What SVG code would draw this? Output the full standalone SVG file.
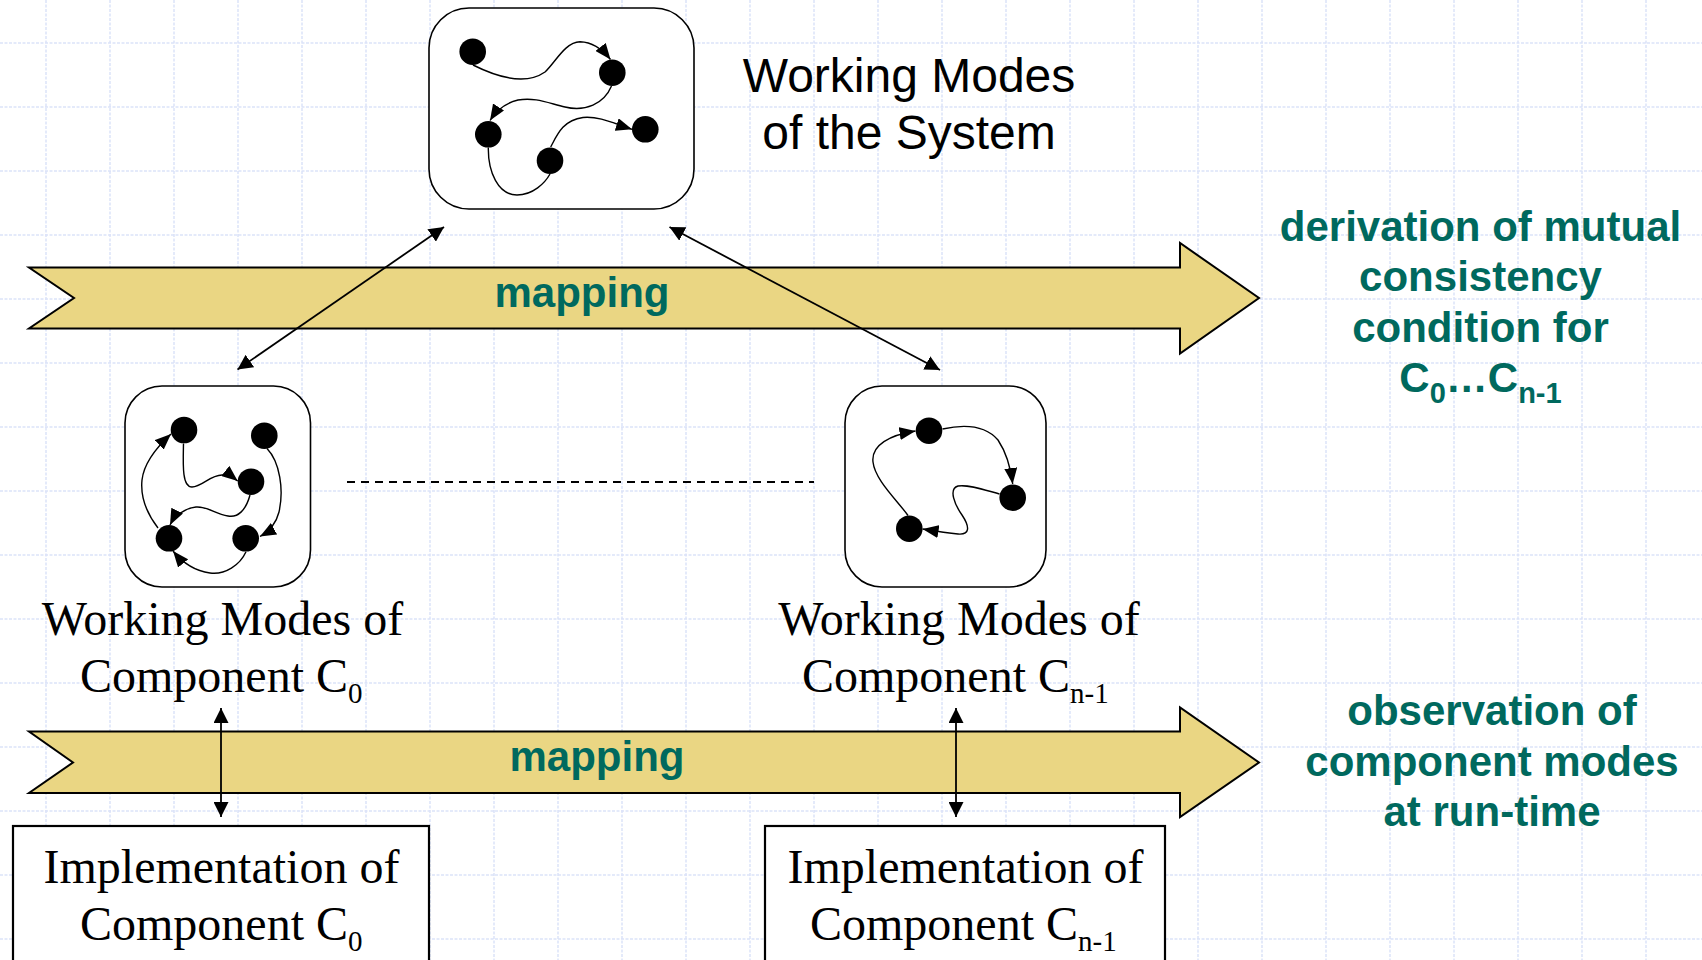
<svg xmlns="http://www.w3.org/2000/svg" width="1702" height="960" viewBox="0 0 1702 960">
  <style>
    .grid { fill: none; stroke: #dce3f9; stroke-width: 1.5; stroke-dasharray: 3 1.5; }
    .box { fill: #ffffff; stroke: #000000; stroke-width: 1.6; }
    .implbox { fill: #ffffff; stroke: #000000; stroke-width: 2.2; }
    .dot { fill: #000000; }
    .edge { fill: none; stroke: #000000; stroke-width: 1.4; marker-end: url(#mini); }
    .plain { fill: none; stroke: #000000; stroke-width: 1.4; }
    .link { fill: none; stroke: #000000; stroke-width: 1.8; marker-start: url(#big); marker-end: url(#big); }
    .banner { fill: #ead683; stroke: #000000; stroke-width: 2; stroke-linejoin: miter; }
    .teal { font-family: "Liberation Sans", Arial, sans-serif; font-weight: bold; font-size: 42px; fill: #00695e; text-anchor: middle; }
    .sans { font-family: "Liberation Sans", Arial, sans-serif; font-size: 48px; fill: #000000; text-anchor: middle; }
    .serif { font-family: "Liberation Serif", "Times New Roman", serif; font-size: 48px; fill: #000000; }
    .sub { font-size: 29px; }
    .tsub { font-size: 29px; }
  </style>
  <defs>
    <marker id="mini" markerUnits="userSpaceOnUse" markerWidth="16" markerHeight="13" viewBox="0 0 16 13" refX="16" refY="6.5" orient="auto">
      <path d="M0,0 L16,6.5 L0,13 z" fill="#000000"/>
    </marker>
    <marker id="big" markerUnits="userSpaceOnUse" markerWidth="15" markerHeight="15" viewBox="0 0 15 15" refX="15" refY="7.5" orient="auto-start-reverse">
      <path d="M0,0 L15,7.5 L0,15 z" fill="#000000"/>
    </marker>
  </defs>

  <rect width="1702" height="960" fill="#ffffff"/>

  <!-- background grid -->
  <path class="grid" d="M46,0V960 M110,0V960 M174,0V960 M238,0V960 M302,0V960 M366,0V960 M430,0V960 M494,0V960 M558,0V960 M622,0V960 M686,0V960 M750,0V960 M814,0V960 M878,0V960 M942,0V960 M1006,0V960 M1070,0V960 M1134,0V960 M1198,0V960 M1262,0V960 M1326,0V960 M1390,0V960 M1454,0V960 M1518,0V960 M1582,0V960 M1646,0V960 M0,43H1702 M0,107H1702 M0,171H1702 M0,235H1702 M0,299H1702 M0,363H1702 M0,427H1702 M0,491H1702 M0,555H1702 M0,619H1702 M0,683H1702 M0,747H1702 M0,811H1702 M0,875H1702 M0,939H1702"/>

  <!-- mapping bands -->
  <g id="mapping-upper">
    <polygon class="banner" points="29,267.5 1180,267.5 1180,243 1259,298 1180,353.5 1180,328.5 29,328.5 74,298"/>
    <text class="teal" x="582" y="307">mapping</text>
  </g>
  <g id="mapping-lower">
    <polygon class="banner" points="29,731.5 1180,731.5 1180,707.5 1259,762.5 1180,817 1180,793 29,793 73,762.5"/>
    <text class="teal" x="597" y="771">mapping</text>
  </g>

  <!-- working modes of the whole system -->
  <g id="system-modes">
    <rect class="box" x="429" y="8" width="265" height="201" rx="40" ry="40"/>
    <path class="edge" d="M473,65 C495,76 525,86 545,72 C555,63 565,42 580,41.7 C592,42 603,50 610.5,59.5"/>
    <path class="edge" d="M611.5,86 C604,104 585,112 565,107 C548,103 535,97 518,100 C505,103 496,111 490,120.5"/>
    <path class="plain" d="M488.3,147.6 C488,172 498,195 517,195 C533,195 545,183 550,174"/>
    <path class="edge" d="M550.7,147 C557,135 563,120 583,117.5 C600,116 615,124 632,129.3"/>
    <circle class="dot" cx="472.7" cy="51.7" r="13.3"/>
    <circle class="dot" cx="612.3" cy="72.7" r="13.3"/>
    <circle class="dot" cx="488.3" cy="134.3" r="13.3"/>
    <circle class="dot" cx="550" cy="160.7" r="13.3"/>
    <circle class="dot" cx="645.3" cy="129.3" r="13.3"/>
  </g>
  <g id="system-label">
    <text class="sans" x="909" y="92">Working Modes</text>
    <text class="sans" x="909" y="149">of the System</text>
  </g>

  <!-- working modes of component C0 -->
  <g id="component-c0-modes">
    <rect class="box" x="125" y="386" width="185.5" height="201" rx="37" ry="37"/>
    <path class="edge" d="M183.5,443.5 C183,465 182,487 192,487 C202,487 210,475 222,475 C229,475 234,478 237.7,481"/>
    <path class="edge" d="M250,495 C246,510 238,518 228,516 C215,514 207,506 196,507 C186,508 175,515 170,525"/>
    <path class="edge" d="M267,448.5 C280,462 284,490 279,512 C276,524 270,531 260,536.5"/>
    <path class="edge" d="M246,551.7 C240,565 225,575 210,573 C195,571 182,562 173,551"/>
    <path class="edge" d="M158,528 C148,515 140,500 142,480 C144,462 158,446 171,434"/>
    <circle class="dot" cx="184" cy="430" r="13.3"/>
    <circle class="dot" cx="264.3" cy="435.7" r="13.3"/>
    <circle class="dot" cx="251" cy="481.7" r="13.3"/>
    <circle class="dot" cx="169" cy="538.3" r="13.3"/>
    <circle class="dot" cx="245.7" cy="538.3" r="13.3"/>
  </g>
  <g id="component-c0-label">
    <text class="serif" x="222.5" y="635" text-anchor="middle">Working Modes of</text>
    <text class="serif" x="80" y="691.5">Component C<tspan class="sub" dy="11">0</tspan></text>
  </g>

  <!-- working modes of component Cn-1 -->
  <g id="component-cn1-modes">
    <rect class="box" x="845" y="386" width="201" height="201" rx="37" ry="37"/>
    <path class="edge" d="M942.5,429 C965,424 985,425 998,440 C1006,452 1011,470 1012.7,484"/>
    <path class="edge" d="M999.5,494 C985,490 968,484 958,486 C948,489 955,505 962,515 C970,527 970,535 958,534 C948,533 935,531 922.6,529"/>
    <path class="edge" d="M908,515.5 C897,500 875,480 873,462 C871,445 890,435 915.5,431"/>
    <circle class="dot" cx="929" cy="430.7" r="13.3"/>
    <circle class="dot" cx="1012.7" cy="497.7" r="13.3"/>
    <circle class="dot" cx="909.3" cy="528.7" r="13.3"/>
  </g>
  <g id="component-cn1-label">
    <text class="serif" x="959" y="635" text-anchor="middle">Working Modes of</text>
    <text class="serif" x="802" y="691.5">Component C<tspan class="sub" dy="11">n-1</tspan></text>
  </g>

  <!-- implementations -->
  <g id="impl-c0">
    <rect class="implbox" x="13" y="826" width="416" height="150"/>
    <text class="serif" x="43.5" y="883">Implementation of</text>
    <text class="serif" x="80" y="940">Component C<tspan class="sub" dy="11">0</tspan></text>
  </g>
  <g id="impl-cn1">
    <rect class="implbox" x="765" y="826" width="400" height="150"/>
    <text class="serif" x="787.5" y="883">Implementation of</text>
    <text class="serif" x="810" y="940">Component C<tspan class="sub" dy="11">n-1</tspan></text>
  </g>

  <!-- side notes -->
  <g id="note-derivation">
    <text class="teal" x="1480.5" y="241">derivation of mutual</text>
    <text class="teal" x="1480.5" y="291">consistency</text>
    <text class="teal" x="1480.5" y="342">condition for</text>
    <text class="teal" x="1480.5" y="392">C<tspan class="tsub" dy="11">0</tspan><tspan dy="-11">…C</tspan><tspan class="tsub" dy="11">n-1</tspan></text>
  </g>
  <g id="note-observation">
    <text class="teal" x="1492" y="725">observation of</text>
    <text class="teal" x="1492" y="776">component modes</text>
    <text class="teal" x="1492" y="826">at run-time</text>
  </g>

  <!-- connectors -->
  <g id="connectors">
    <path class="link" d="M444,227 L237.5,369.5"/>
    <path class="link" d="M669.5,227 L940,370"/>
    <path class="link" d="M221,708 V817"/>
    <path class="link" d="M956,708 V817"/>
    <path d="M347,482 H814" fill="none" stroke="#000000" stroke-width="2" stroke-dasharray="8 6"/>
  </g>
</svg>
